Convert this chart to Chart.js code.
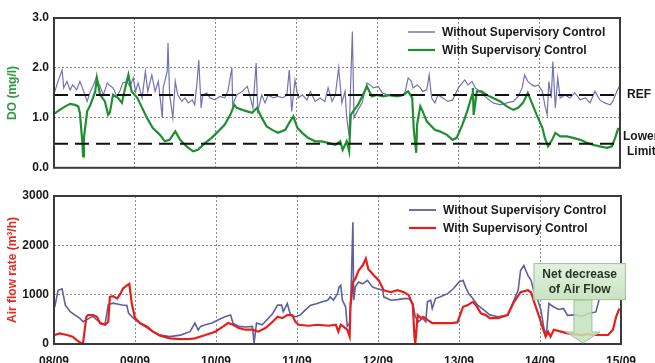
<!DOCTYPE html>
<html lang="en">
<head>
<meta charset="UTF-8">
<title>DO and air flow with / without supervisory control</title>
<script src="https://cdn.jsdelivr.net/npm/chart.js"></script>
<style>
  body { margin: 0; background: #fff; }
  #wrap { position: relative; width: 655px; height: 363px; overflow: hidden; background: #fff; }
  canvas { position: absolute; left: 0; }
  #doChart { top: 0; }
  #airChart { top: 180px; }
</style>
</head>
<body>
<div id="wrap">
  <canvas id="doChart" width="655" height="180"></canvas>
  <canvas id="airChart" width="655" height="183"></canvas>
</div>

<script>
// x values are days after 08/09 00:00
const dayLabels = ['08/09', '09/09', '10/09', '11/09', '12/09', '13/09', '14/09', '15/09'];
const seriesNames = ['Without Supervisory Control', 'With Supervisory Control'];

const refLevel = 1.46;
const lowerLimit = 0.48;

// DO without supervisory control (mg/l)
const doNoT = [0.01,0.05,0.10,0.12,0.16,0.20,0.23,0.28,0.32,0.36,0.41,0.45,0.48,0.52,0.57,0.61,0.66,0.68,0.73,0.78,
  0.82,0.85,0.90,0.94,0.98,1.01,1.04,1.09,1.13,1.16,1.21,1.25,1.29,1.34,1.35,1.40,1.41,1.43,1.47,1.50,
  1.53,1.58,1.62,1.66,1.71,1.74,1.77,1.79,1.82,1.84,1.89,1.93,1.99,2.05,2.11,2.15,2.20,2.21,2.26,2.33,
  2.39,2.42,2.46,2.50,2.52,2.57,2.61,2.65,2.71,2.77,2.83,2.88,2.91,2.94,2.98,3.02,3.07,3.13,3.17,3.23,
  3.29,3.35,3.39,3.44,3.48,3.52,3.56,3.60,3.62,3.65,3.67,3.69,3.71,3.75,3.81,3.87,3.91,3.95,4.01,4.06,
  4.12,4.19,4.28,4.34,4.38,4.42,4.44,4.49,4.53,4.56,4.61,4.64,4.67,4.71,4.75,4.81,4.87,4.93,5.00,5.05,
  5.08,5.12,5.17,5.21,5.27,5.33,5.43,5.52,5.60,5.68,5.74,5.79,5.82,5.86,5.91,5.95,5.99,6.04,6.07,6.10,
  6.12,6.15,6.17,6.20,6.23,6.26,6.32,6.38,6.44,6.51,6.57,6.63,6.69,6.75,6.81,6.88,6.91,6.96,6.99];
const doNoV = [1.53,1.73,1.96,1.60,1.73,1.56,1.66,1.56,1.73,1.56,1.33,1.53,1.63,1.80,1.63,1.46,1.70,1.66,1.60,1.43,
  1.56,1.70,1.73,1.63,1.80,1.53,1.70,1.40,1.93,1.53,1.86,1.53,1.73,1.00,1.60,1.93,2.50,1.46,1.00,1.73,
  1.46,1.33,1.40,1.30,1.36,1.26,1.73,2.16,1.20,1.46,1.50,1.40,1.36,1.43,1.40,1.53,2.00,1.26,1.46,1.53,
  1.63,1.46,1.20,2.10,1.13,1.46,1.30,1.46,1.40,1.43,1.40,1.46,1.96,1.13,1.76,1.40,1.46,1.36,1.53,1.33,
  1.40,1.33,1.60,1.33,1.46,2.00,1.30,1.53,1.00,0.65,1.73,2.73,1.00,1.13,1.30,1.70,1.66,1.60,1.63,1.50,
  1.46,1.43,1.43,1.50,1.80,1.73,1.60,1.66,1.60,1.53,1.56,1.86,1.40,1.30,1.46,1.40,1.33,1.36,1.60,1.70,
  1.76,1.66,1.73,1.60,1.53,1.43,1.30,1.26,1.30,1.33,1.43,1.60,1.86,1.73,1.66,1.63,1.66,1.53,1.26,1.06,
  1.73,1.40,2.13,1.20,1.80,1.40,1.46,1.40,1.50,1.36,1.40,1.30,1.53,1.36,1.30,1.26,1.33,1.53,1.63];

// DO with supervisory control (mg/l)
const doWithT = [0.01,0.07,0.14,0.20,0.26,0.30,0.32,0.35,0.36,0.37,0.41,0.45,0.51,0.53,0.57,0.63,0.67,0.69,0.73,0.79,
  0.84,0.88,0.92,0.96,1.03,1.09,1.15,1.22,1.31,1.37,1.43,1.50,1.56,1.64,1.72,1.78,1.87,1.95,2.03,2.11,
  2.18,2.23,2.26,2.33,2.39,2.45,2.51,2.57,2.63,2.70,2.77,2.86,2.92,2.96,3.01,3.07,3.14,3.23,3.31,3.39,
  3.48,3.54,3.57,3.62,3.65,3.67,3.70,3.76,3.82,3.87,3.93,3.99,4.07,4.16,4.24,4.32,4.38,4.43,4.45,4.48,
  4.49,4.53,4.56,4.61,4.65,4.71,4.77,4.86,4.93,4.98,5.05,5.11,5.17,5.18,5.19,5.23,5.29,5.35,5.43,5.52,
  5.60,5.68,5.74,5.80,5.86,5.91,5.97,6.04,6.07,6.11,6.16,6.20,6.26,6.34,6.42,6.51,6.59,6.67,6.75,6.84,
  6.90,6.94,6.98];
const doWithV = [1.09,1.16,1.23,1.28,1.26,1.23,1.10,0.53,0.23,0.60,1.13,1.26,1.53,1.80,1.46,1.33,1.06,1.10,1.46,1.40,
  1.30,1.60,1.86,1.53,1.40,1.20,1.00,0.80,0.66,0.53,0.56,0.73,0.56,0.43,0.33,0.36,0.50,0.60,0.73,0.86,
  1.06,1.26,1.20,1.16,1.13,1.10,1.20,1.00,0.83,0.76,0.70,0.76,0.93,1.03,0.80,0.70,0.60,0.53,0.53,0.50,
  0.46,0.53,0.36,0.53,0.33,1.06,1.13,1.26,1.46,1.63,1.43,1.46,1.43,1.46,1.43,1.46,1.53,1.40,0.76,0.30,
  0.86,1.23,1.13,0.93,0.86,0.76,0.73,0.66,0.56,0.60,0.86,1.13,1.46,1.60,1.06,1.53,1.53,1.46,1.40,1.33,
  1.23,1.16,1.20,1.30,1.50,1.30,1.06,0.80,0.60,0.43,0.56,0.70,0.63,0.63,0.60,0.56,0.50,0.46,0.43,0.40,
  0.43,0.60,0.80];

// Air flow without supervisory control (m3/h)
const airNoT = [0.01,0.05,0.10,0.14,0.20,0.26,0.32,0.36,0.41,0.48,0.57,0.63,0.67,0.73,0.78,0.84,0.90,0.92,0.98,1.06,
  1.19,1.31,1.43,1.56,1.68,1.74,1.78,1.81,1.87,1.95,2.03,2.11,2.18,2.21,2.28,2.36,2.45,2.47,2.50,2.57,
  2.63,2.70,2.76,2.81,2.83,2.88,2.92,2.98,3.04,3.10,3.17,3.25,3.31,3.38,3.41,3.45,3.50,3.52,3.54,3.56,
  3.60,3.62,3.65,3.67,3.69,3.70,3.72,3.76,3.81,3.87,3.93,3.99,4.06,4.07,4.16,4.24,4.32,4.38,4.43,4.46,
  4.50,4.55,4.59,4.61,4.65,4.67,4.71,4.77,4.86,4.93,5.00,5.05,5.08,5.12,5.17,5.23,5.31,5.38,5.48,5.60,
  5.66,5.73,5.76,5.80,5.85,5.89,5.92,5.97,6.01,6.05,6.08,6.11,6.16,6.23,6.29,6.34,6.44,6.51,6.60,6.69,
  6.73,6.78,6.88,6.98];
const airNoV = [754,1090,1120,788,653,586,519,451,500,560,430,400,800,828,810,790,780,626,525,424,
  283,180,150,180,250,424,283,357,390,424,490,552,586,424,357,345,357,20,424,390,
  490,620,788,788,653,820,586,552,586,687,788,820,855,888,956,888,1020,1158,1190,888,
  754,357,424,1220,2470,888,1158,1256,1220,1290,1158,1120,1090,956,888,900,920,920,820,552,
  450,525,450,855,888,720,920,956,1020,1120,1256,1290,1158,1020,920,788,687,590,552,586,
  820,1090,1490,1590,1390,1290,1090,900,700,300,200,820,760,700,720,580,590,560,620,650,
  900,1050,1000,900];

// Air flow with supervisory control (m3/h)
const airWithT = [0.01,0.07,0.16,0.23,0.28,0.35,0.36,0.40,0.42,0.48,0.53,0.57,0.63,0.67,0.69,0.73,0.78,0.82,0.85,0.90,
  0.93,0.96,1.00,1.06,1.15,1.22,1.31,1.43,1.56,1.68,1.74,1.87,1.99,2.09,2.15,2.21,2.28,2.36,2.45,2.52,
  2.61,2.70,2.76,2.82,2.88,2.94,2.98,3.02,3.14,3.26,3.39,3.48,3.51,3.54,3.57,3.62,3.65,3.66,3.69,3.72,
  3.76,3.81,3.85,3.88,3.95,4.01,4.07,4.16,4.24,4.32,4.38,4.43,4.45,4.46,4.49,4.53,4.56,4.61,4.67,4.77,
  4.90,4.98,5.05,5.11,5.17,5.21,5.27,5.33,5.38,5.48,5.60,5.68,5.76,5.85,5.89,5.92,5.99,6.04,6.07,6.10,
  6.13,6.17,6.26,6.34,6.42,6.51,6.59,6.67,6.75,6.84,6.90,6.94,6.98];
const airWithV = [182,215,182,148,80,0,40,552,586,586,552,420,390,450,956,970,920,1020,1120,1190,
  1220,820,525,424,350,250,170,115,100,105,115,182,250,357,424,390,323,290,290,250,
  323,450,552,525,586,586,450,390,370,390,370,390,250,390,357,290,150,754,1256,1320,
  1490,1590,1730,1520,1390,1290,1090,1050,1090,1050,990,788,150,0,586,525,552,490,424,424,
  424,437,754,788,855,788,620,586,525,525,586,855,1050,1090,1050,888,552,290,150,250,
  150,290,250,215,200,182,200,182,182,182,290,552,720];

function pts(t, v) {
  return t.map((x, i) => ({ x: x, y: v[i] }));
}
function flat(level) {
  return [{ x: 0, y: level }, { x: 7, y: level }];
}

const tickFont = { family: 'Arial, "Liberation Sans", sans-serif', size: 12, weight: 'bold' };
const gridStyle = { color: '#8a8a8a', lineWidth: 1, drawTicks: false };

// frame, legend and side notes
const extras = {
  id: 'extras',
  afterDatasetsDraw(chart, args, opts) {
    const ctx = chart.ctx;
    const a = chart.chartArea;
    ctx.save();
    ctx.strokeStyle = '#3a3a3a';
    ctx.lineWidth = 2;
    ctx.strokeRect(a.left, a.top, a.right - a.left, a.bottom - a.top);

    ctx.font = 'bold 12px Arial, "Liberation Sans", sans-serif';
    ctx.textBaseline = 'middle';
    ctx.textAlign = 'left';
    const lx = a.right - 212;
    opts.legend.forEach((item, i) => {
      const y = a.top + 14 + i * 18;
      ctx.strokeStyle = item.color;
      ctx.lineWidth = item.width;
      ctx.beginPath();
      ctx.moveTo(lx, y);
      ctx.lineTo(lx + 27, y);
      ctx.stroke();
      ctx.fillStyle = '#1a1a1a';
      ctx.fillText(item.text, lx + 34, y + 1);
    });

    if (opts.notes) {
      const ys = chart.scales.y;
      ctx.fillStyle = '#1a1a1a';
      ctx.fillText('REF', a.right + 7, ys.getPixelForValue(refLevel));
      const yl = ys.getPixelForValue(lowerLimit);
      ctx.fillText('Lower', a.right + 3, yl - 7);
      ctx.fillText('Limit', a.right + 7, yl + 8);
    }

    if (opts.callout) {
      const xs = chart.scales.x, ys = chart.scales.y;
      const c = opts.callout;
      const x0 = xs.getPixelForValue(c.x0), x1 = xs.getPixelForValue(c.x1);
      const y0 = ys.getPixelForValue(c.y0), y1 = ys.getPixelForValue(c.y1);
      const cx = xs.getPixelForValue(c.tip);
      const tip = ys.getPixelForValue(0) - 1;
      // arrow
      ctx.fillStyle = 'rgba(196,226,188,0.85)';
      ctx.strokeStyle = '#9dbf97';
      ctx.lineWidth = 1;
      ctx.beginPath();
      ctx.moveTo(cx - 9, y1);
      ctx.lineTo(cx - 9, tip - 11);
      ctx.lineTo(cx - 17, tip - 11);
      ctx.lineTo(cx, tip);
      ctx.lineTo(cx + 17, tip - 11);
      ctx.lineTo(cx + 9, tip - 11);
      ctx.lineTo(cx + 9, y1);
      ctx.closePath();
      ctx.fill();
      ctx.stroke();
      // box
      const g = ctx.createLinearGradient(0, y0, 0, y1);
      g.addColorStop(0, '#e4f2e0');
      g.addColorStop(1, '#c8e3c2');
      ctx.fillStyle = g;
      ctx.fillRect(x0, y0, x1 - x0, y1 - y0);
      ctx.strokeStyle = '#a3c29d';
      ctx.strokeRect(x0 + 0.5, y0 + 0.5, x1 - x0 - 1, y1 - y0 - 1);
      ctx.fillStyle = '#263626';
      ctx.textAlign = 'center';
      ctx.fillText('Net decrease', (x0 + x1) / 2, y0 + 12);
      ctx.fillText('of Air Flow', (x0 + x1) / 2, y0 + 27);
    }
    ctx.restore();
  }
};

function axisX(showLabels, height) {
  return {
    type: 'linear', min: 0, max: 7,
    afterFit: s => { s.height = height; },
    grid: gridStyle,
    border: { display: false, dash: [2, 2] },
    ticks: {
      display: showLabels, stepSize: 1, padding: 10, color: '#1a1a1a', font: tickFont,
      callback: v => dayLabels[v]
    }
  };
}
function axisY(max, step, digits, title, titleColor) {
  return {
    min: 0, max: max,
    afterFit: s => { s.width = 54; },
    grid: gridStyle,
    border: { display: false, dash: [2, 2] },
    ticks: { stepSize: step, padding: 5, color: '#1a1a1a', font: tickFont, callback: v => v.toFixed(digits) },
    title: { display: true, text: title, color: titleColor, font: tickFont, padding: { top: 5, bottom: 0 } }
  };
}

const blueTop = '#7373b3';
const green = '#1f8f30';
const blueBottom = '#5d609f';
const red = '#e5201c';

new Chart(document.getElementById('doChart'), {
  type: 'line',
  data: {
    datasets: [
      { data: flat(refLevel), borderColor: '#111', borderWidth: 2, borderDash: [14, 7] },
      { data: flat(lowerLimit), borderColor: '#111', borderWidth: 2, borderDash: [14, 7] },
      { label: seriesNames[1], data: pts(doWithT, doWithV), borderColor: green, borderWidth: 2.2 },
      { label: seriesNames[0], data: pts(doNoT, doNoV), borderColor: blueTop, borderWidth: 1.2 }
    ]
  },
  options: {
    responsive: false,
    animation: false,
    layout: { padding: { top: 18, right: 35, left: 0, bottom: 0 } },
    elements: { point: { radius: 0 }, line: { tension: 0 } },
    scales: {
      x: axisX(false, 12),
      y: axisY(3, 1, 1, 'DO (mg/l)', '#2f9a3f')
    },
    plugins: {
      legend: { display: false },
      tooltip: { enabled: false },
      extras: {
        notes: true,
        legend: [
          { text: seriesNames[0], color: blueTop, width: 1.5 },
          { text: seriesNames[1], color: green, width: 2.2 }
        ]
      }
    }
  },
  plugins: [extras]
});

new Chart(document.getElementById('airChart'), {
  type: 'line',
  data: {
    datasets: [
      { label: seriesNames[1], data: pts(airWithT, airWithV), borderColor: red, borderWidth: 2.2 },
      { label: seriesNames[0], data: pts(airNoT, airNoV), borderColor: blueBottom, borderWidth: 1.6 }
    ]
  },
  options: {
    responsive: false,
    animation: false,
    layout: { padding: { top: 16, right: 34, left: 0, bottom: 0 } },
    elements: { point: { radius: 0 }, line: { tension: 0 } },
    scales: {
      x: axisX(true, 19),
      y: axisY(3000, 1000, 0, 'Air flow rate (m\u00b3/h)', '#e02a22')
    },
    plugins: {
      legend: { display: false },
      tooltip: { enabled: false },
      extras: {
        notes: false,
        legend: [
          { text: seriesNames[0], color: blueBottom, width: 1.8 },
          { text: seriesNames[1], color: red, width: 2.2 }
        ],
        callout: { x0: 5.92, x1: 7.06, y0: 1640, y1: 890, tip: 6.53 }
      }
    }
  },
  plugins: [extras]
});
</script>
</body>
</html>
